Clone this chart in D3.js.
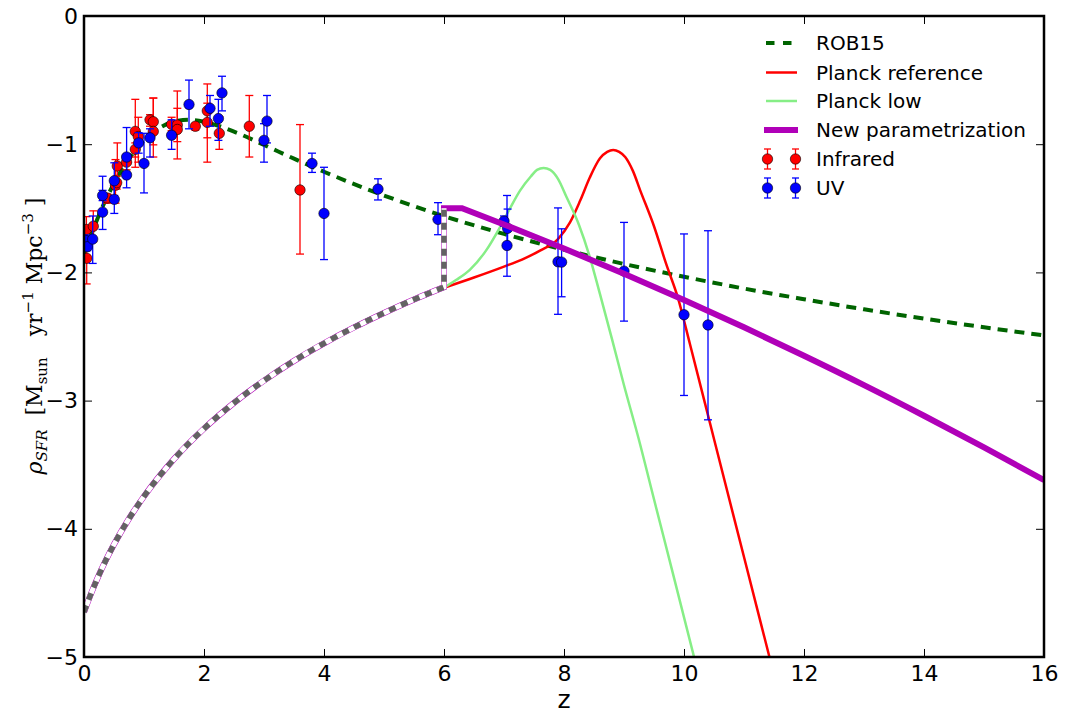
<!DOCTYPE html>
<html>
<head>
<meta charset="utf-8">
<script src="https://cdn.jsdelivr.net/npm/d3@7"></script>
<style>
  html, body { margin: 0; padding: 0; background: #fff; }
  #chart { width: 1076px; height: 716px; }
</style>
</head>
<body>
<div id="chart"></div>
<script>
// ---- data ----
const X_TICKS = [0, 2, 4, 6, 8, 10, 12, 14, 16];
const Y_TICKS = [0, -1, -2, -3, -4, -5];

// ROB15 fit
const ROB_Z = [0, 0.25, 0.5, 0.75, 1, 1.25, 1.5, 1.75, 2, 2.5, 3, 3.5, 4, 5, 6, 7, 8, 9, 10, 11, 12, 13, 14, 15, 16];
const ROB_V = [-1.863, -1.552, -1.306, -1.114, -0.970, -0.875, -0.824, -0.810, -0.825, -0.902, -1.006, -1.113, -1.215, -1.400, -1.561, -1.700, -1.823, -1.934, -2.034, -2.126, -2.209, -2.288, -2.360, -2.428, -2.492];

// Planck reference
const PREF_Z = [6, 6.5, 7, 7.3, 7.6, 7.9, 8.1, 8.27, 8.43, 8.6, 8.72, 8.82, 8.92, 9.02, 9.15, 9.27, 9.5, 9.7, 9.9, 10.1, 10.5, 11.0, 11.5];
const PREF_V = [-2.12, -2.04, -1.955, -1.90, -1.83, -1.74, -1.61, -1.44, -1.26, -1.11, -1.06, -1.045, -1.06, -1.10, -1.21, -1.36, -1.64, -1.93, -2.20, -2.56, -3.30, -4.22, -5.14];

// Planck low
const PLOW_Z = [6, 6.2, 6.43, 6.7, 6.93, 7.1, 7.27, 7.45, 7.55, 7.66, 7.77, 7.9, 8.04, 8.25, 8.43, 8.6, 8.8, 9.0, 9.24, 9.5, 9.8, 10.2];
const PLOW_V = [-2.12, -2.06, -1.98, -1.83, -1.65, -1.50, -1.36, -1.25, -1.20, -1.185, -1.20, -1.27, -1.41, -1.63, -1.88, -2.17, -2.52, -2.88, -3.29, -3.77, -4.32, -5.06];

// New parametrization: low-z branch (drawn dashed grey), jump, high-z branch
const LOWZ_Z = [0, 0.1, 0.25, 0.5, 0.75, 1, 1.5, 2, 2.5, 3, 3.5, 4, 4.5, 5, 5.5, 6];
const LOWZ_V = [-4.65, -4.526, -4.359, -4.122, -3.921, -3.747, -3.456, -3.219, -3.018, -2.844, -2.690, -2.553, -2.429, -2.316, -2.211, -2.115];
const JUMP_Z = [6, 6, 6.3];
const JUMP_V = [-2.115, -1.5, -1.5];
const HIGHZ_Z = [6.3, 7, 8, 9, 10, 11, 12, 13, 14, 15, 16];
const HIGHZ_V = [-1.5, -1.626, -1.814, -2.01, -2.215, -2.428, -2.65, -2.879, -3.118, -3.365, -3.62];

// Infrared points: z, value, minus error, plus error
const IR_Z   = [0.04, 0.045, 0.155, 0.39, 0.525, 0.545, 0.555, 0.71, 0.855, 0.855, 0.905, 1.10, 1.155, 1.155, 1.46, 1.555, 1.555, 1.855, 2.055, 2.055, 2.255, 2.755, 3.6];
const IR_V   = [-1.665, -1.89, -1.64, -1.42, -1.32, -1.30, -1.17, -1.14, -1.04, -0.90, -0.94, -0.81, -0.825, -0.90, -0.845, -0.85, -0.885, -0.86, -0.74, -0.83, -0.915, -0.86, -1.357];
const IR_EM  = [0.10, 0.20, 0.12, 0.04, 0.14, 0.05, 0.13, 0.06, 0.06, 0.28, 0.20, 0.05, 0.18, 0.20, 0.05, 0.13, 0.23, 0.03, 0.21, 0.31, 0.125, 0.24, 0.50];
const IR_EP  = [0.10, 0.20, 0.12, 0.03, 0.20, 0.05, 0.18, 0.06, 0.05, 0.25, 0.15, 0.04, 0.185, 0.26, 0.055, 0.13, 0.30, 0.02, 0.21, 0.15, 0.13, 0.24, 0.51];

// UV points
const UV_Z  = [0.02, 0.055, 0.145, 0.31, 0.31, 0.505, 0.505, 0.71, 0.71, 0.91, 1.0, 1.1, 1.46, 1.75, 2.1, 2.24, 2.3, 3.0, 3.05, 3.8, 4.0, 4.9, 5.9, 7.0, 7.05, 7.06, 7.9, 7.96, 9.0, 10.0, 10.4];
const UV_V  = [-1.75, -1.80, -1.74, -1.53, -1.40, -1.43, -1.285, -1.10, -1.24, -0.99, -1.15, -0.95, -0.93, -0.69, -0.72, -0.80, -0.60, -0.97, -0.82, -1.15, -1.54, -1.35, -1.586, -1.60, -1.79, -1.656, -1.917, -1.92, -1.99, -2.33, -2.41];
const UV_EM = [0.04, 0.03, 0.19, 0.135, 0.04, 0.11, 0.115, 0.14, 0.10, 0.08, 0.23, 0.15, 0.11, 0.19, 0.14, 0.17, 0.14, 0.17, 0.17, 0.07, 0.36, 0.085, 0.12, 0.04, 0.24, 0.13, 0.41, 0.27, 0.39, 0.63, 0.74];
const UV_EP = [0.04, 0.09, 0.18, 0.28, 0.04, 0.13, 0.14, 0.23, 0.12, 0.08, 0.235, 0.07, 0.12, 0.19, 0.10, 0.15, 0.13, 0.13, 0.20, 0.08, 0.36, 0.08, 0.13, 0.04, 0.39, 0.15, 0.42, 0.26, 0.38, 0.63, 0.735];

const LEGEND = ['ROB15', 'Planck reference', 'Planck low', 'New parametrization', 'Infrared', 'UV'];

// ---- drawing ----
const margin = { top: 16, left: 84 };
const w = 960, h = 641;
const FONT = "'DejaVu Sans', sans-serif";

const svg = d3.select('#chart').append('svg')
  .attr('width', 1076).attr('height', 716);

svg.append('defs').append('clipPath').attr('id', 'plotclip')
  .append('rect').attr('width', w).attr('height', h);

const g = svg.append('g').attr('transform', `translate(${margin.left},${margin.top})`);

const x = d3.scaleLinear().domain([0, 16]).range([0, w]);
const y = d3.scaleLinear().domain([-5, 0]).range([h, 0]);

const pts = (zs, vs) => zs.map((z, i) => [z, vs[i]]);
const lineMono = d3.line().x(d => x(d[0])).y(d => y(d[1])).curve(d3.curveMonotoneX);
const lineLin = d3.line().x(d => x(d[0])).y(d => y(d[1]));

const plot = g.append('g').attr('clip-path', 'url(#plotclip)');

// ROB15
plot.append('path').attr('d', lineMono(pts(ROB_Z, ROB_V)))
  .attr('fill', 'none').attr('stroke', '#006400').attr('stroke-width', 4)
  .attr('stroke-dasharray', '10,7');

// Planck curves
plot.append('path').attr('d', lineMono(pts(PREF_Z, PREF_V)))
  .attr('fill', 'none').attr('stroke', '#ff0000').attr('stroke-width', 2.5);
plot.append('path').attr('d', lineMono(pts(PLOW_Z, PLOW_V)))
  .attr('fill', 'none').attr('stroke', '#86ee86').attr('stroke-width', 2.5);

// error bars + markers
function drawErr(zs, vs, em, ep, color) {
  const eg = plot.append('g');
  zs.forEach((z, i) => {
    const cx = x(z), y0 = y(vs[i] - em[i]), y1 = y(vs[i] + ep[i]);
    eg.append('line').attr('x1', cx).attr('x2', cx).attr('y1', y0).attr('y2', y1)
      .attr('stroke', color).attr('stroke-width', 1.3);
    [y0, y1].forEach(yy => eg.append('line')
      .attr('x1', cx - 4).attr('x2', cx + 4).attr('y1', yy).attr('y2', yy)
      .attr('stroke', color).attr('stroke-width', 1.3));
  });
  zs.forEach((z, i) => {
    eg.append('circle').attr('cx', x(z)).attr('cy', y(vs[i])).attr('r', 5.2)
      .attr('fill', color).attr('stroke', '#000').attr('stroke-width', 0.6);
  });
}
drawErr(IR_Z, IR_V, IR_EM, IR_EP, '#ff0000');
drawErr(UV_Z, UV_V, UV_EM, UV_EP, '#0000ff');

// new parametrization (purple) with low-z branch overdrawn white + grey dashes
const lowPts = pts(LOWZ_Z, LOWZ_V);
const jumpPts = pts(JUMP_Z, JUMP_V);
const newD = lineMono(lowPts)
  + lineLin(jumpPts).replace(/^M/, 'L')
  + lineMono(pts(HIGHZ_Z, HIGHZ_V)).replace(/^M/, 'L');
plot.append('path').attr('d', newD)
  .attr('fill', 'none').attr('stroke', '#b000b8').attr('stroke-width', 6)
  .attr('stroke-linejoin', 'miter');
const greyD = lineMono(lowPts) + lineLin(jumpPts.slice(0, 2)).replace(/^M/, 'L');
plot.append('path').attr('d', greyD)
  .attr('fill', 'none').attr('stroke', '#fff').attr('stroke-width', 5);
plot.append('path').attr('d', greyD)
  .attr('fill', 'none').attr('stroke', '#636363').attr('stroke-width', 5.5)
  .attr('stroke-dasharray', '7,6');

// axes
const fmt = d => d3.format('d')(d).replace('-', '\u2212');
const styleAxis = (ax) => {
  ax.select('.domain').remove();
  ax.selectAll('line').attr('stroke', '#000').attr('stroke-width', 1);
  ax.selectAll('text').attr('font-family', FONT).attr('font-size', '22px').attr('fill', '#000');
};
styleAxis(g.append('g').attr('transform', `translate(0,${h})`)
  .call(d3.axisBottom(x).tickValues(X_TICKS).tickSizeInner(-8).tickSizeOuter(0).tickPadding(8).tickFormat(fmt)));
styleAxis(g.append('g')
  .call(d3.axisTop(x).tickValues(X_TICKS).tickSizeInner(-8).tickSizeOuter(0).tickFormat('')));
styleAxis(g.append('g')
  .call(d3.axisLeft(y).tickValues(Y_TICKS).tickSizeInner(-8).tickSizeOuter(0).tickPadding(6).tickFormat(fmt)));
styleAxis(g.append('g').attr('transform', `translate(${w},0)`)
  .call(d3.axisRight(y).tickValues(Y_TICKS).tickSizeInner(-8).tickSizeOuter(0).tickFormat('')));

g.append('rect').attr('width', w).attr('height', h)
  .attr('fill', 'none').attr('stroke', '#000').attr('stroke-width', 2.5);

// axis labels
svg.append('text').attr('x', 564).attr('y', 708).attr('text-anchor', 'middle')
  .attr('font-family', FONT).attr('font-size', '25px').text('z');

const yl = svg.append('text')
  .attr('transform', 'translate(42,336) rotate(-90)')
  .attr('text-anchor', 'middle')
  .attr('font-family', "'DejaVu Serif', serif").attr('font-size', '22px')
  .style('white-space', 'pre');
yl.append('tspan').attr('font-style', 'italic').text('\u03C1');
yl.append('tspan').attr('font-style', 'italic').attr('font-size', '15px').attr('dy', 5).text('SFR');
yl.append('tspan').attr('dy', -5).text('  [M');
yl.append('tspan').attr('font-size', '15px').attr('dy', 5).text('sun');
yl.append('tspan').attr('dy', -5).text('   yr');
yl.append('tspan').attr('font-size', '15px').attr('dy', -9).text('\u22121');
yl.append('tspan').attr('dy', 9).text(' Mpc');
yl.append('tspan').attr('font-size', '15px').attr('dy', -9).text('\u22123');
yl.append('tspan').attr('dy', 9).text(' ]');

// legend
const leg = svg.append('g');
const rowY = [43, 72.5, 101, 130, 159, 188];
const lx0 = 766, lx1 = 797, tx = 816;
leg.append('line').attr('x1', lx0).attr('x2', lx1).attr('y1', rowY[0]).attr('y2', rowY[0])
  .attr('stroke', '#006400').attr('stroke-width', 4).attr('stroke-dasharray', '8.5,8.5');
leg.append('line').attr('x1', lx0).attr('x2', lx1).attr('y1', rowY[1]).attr('y2', rowY[1])
  .attr('stroke', '#ff0000').attr('stroke-width', 2.5);
leg.append('line').attr('x1', lx0).attr('x2', lx1).attr('y1', rowY[2]).attr('y2', rowY[2])
  .attr('stroke', '#86ee86').attr('stroke-width', 2.5);
leg.append('line').attr('x1', lx0 - 2).attr('x2', lx1 + 1).attr('y1', rowY[3]).attr('y2', rowY[3])
  .attr('stroke', '#b000b8').attr('stroke-width', 6);
[[rowY[4], '#ff0000'], [rowY[5], '#0000ff']].forEach(([ry, c]) => {
  [767.5, 795.5].forEach(cx => {
    leg.append('line').attr('x1', cx).attr('x2', cx).attr('y1', ry - 10).attr('y2', ry + 10)
      .attr('stroke', c).attr('stroke-width', 1.3);
    [ry - 10, ry + 10].forEach(yy => leg.append('line')
      .attr('x1', cx - 3.5).attr('x2', cx + 3.5).attr('y1', yy).attr('y2', yy)
      .attr('stroke', c).attr('stroke-width', 1.3));
    leg.append('circle').attr('cx', cx).attr('cy', ry).attr('r', 5.2)
      .attr('fill', c).attr('stroke', '#000').attr('stroke-width', 0.6);
  });
});
LEGEND.forEach((t, i) => {
  leg.append('text').attr('x', tx).attr('y', rowY[i]).attr('dy', '0.36em')
    .attr('font-family', FONT).attr('font-size', '20px').attr('fill', '#000').text(t);
});
</script>
</body>
</html>
